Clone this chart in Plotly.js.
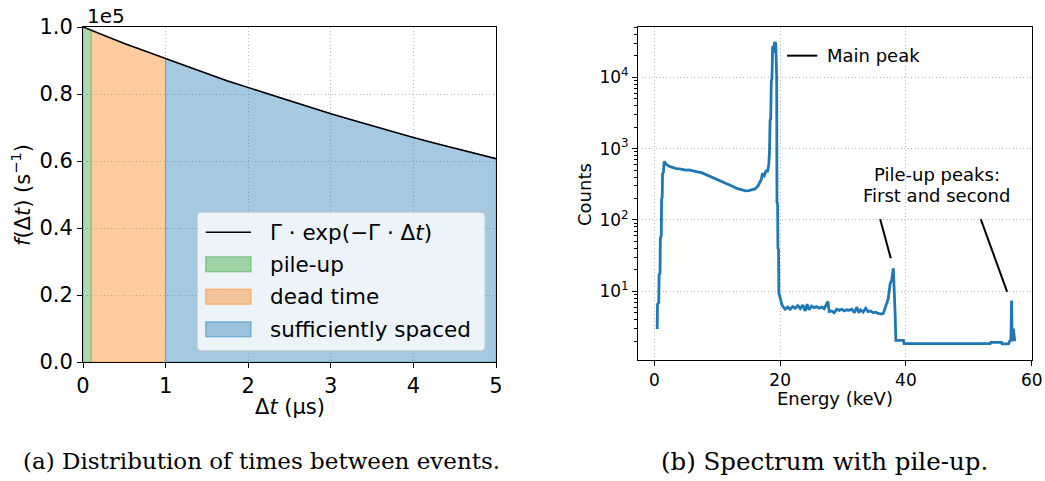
<!DOCTYPE html>
<html><head><meta charset="utf-8">
<script src="https://cdn.plot.ly/plotly-3.0.1.min.js"></script>
<style>html,body{margin:0;padding:0;background:#fff}#chart{width:1045px;height:481px}</style>
</head><body><div id="chart"></div>
<script>
// ---------- Data: (a) distribution of times between events ----------
const dtUs = [0, 0.1, 0.25, 0.5, 0.75, 1.0, 1.25, 1.5, 1.75, 2.0, 2.25, 2.5, 2.75, 3.0, 3.25, 3.5, 3.75, 4.0, 4.25, 4.5, 4.75, 5.0];
const rateE5 = [1.000, 0.990, 0.975, 0.951, 0.928, 0.905, 0.882, 0.861, 0.839, 0.819, 0.799, 0.779, 0.760, 0.741, 0.723, 0.705, 0.687, 0.670, 0.654, 0.638, 0.622, 0.607];
const curveName = 'Γ · exp(−Γ · Δ<i>t</i>)';
const regionNames = ['pile-up', 'dead time', 'sufficiently spaced'];
const regionEdgesUs = [0, 0.1, 1.0, 5.0];

// ---------- Data: (b) spectrum with pile-up ----------
const energyKeV = [0.25, 0.45, 0.5, 0.7, 0.75, 0.9, 0.95, 1.1, 1.15, 1.25, 1.3, 1.45, 1.55, 1.8, 2.0, 2.5, 3.0, 3.5, 4.0, 4.5, 5.0, 5.5, 6.0, 6.5, 7.0, 7.5, 8.0, 8.5, 9.0, 9.5, 10.0, 10.5, 11.0, 11.5, 12.0, 12.5, 13.0, 13.5, 14.0, 14.5, 15.0, 15.5, 16.0, 16.5, 17.0, 17.2, 17.5, 17.8, 18.0, 18.2, 18.3, 18.4, 18.5, 18.6, 18.7, 18.8, 18.9, 19.0, 19.1, 19.2, 19.3, 19.35, 19.45, 19.5, 19.6, 19.65, 19.75, 19.8, 20.0, 20.3, 20.8, 21.2, 21.6, 22.0, 22.4, 22.8, 23.2, 23.6, 24.0, 24.3, 24.6, 25.0, 25.4, 25.8, 26.2, 26.6, 27.0, 27.4, 27.6, 27.8, 28.2, 28.6, 29.0, 29.4, 29.8, 30.2, 30.6, 31.0, 31.4, 31.8, 32.2, 32.5, 32.8, 33.2, 33.6, 34.0, 34.4, 34.8, 35.2, 35.6, 36.0, 36.4, 36.8, 37.2, 37.5, 37.75, 38.0, 38.15, 38.3, 38.4, 39.6, 39.7, 42.0, 45.0, 48.0, 51.0, 53.4, 53.5, 55.2, 55.3, 56.3, 56.5, 56.7, 56.8, 56.9, 57.0, 57.1, 57.2, 57.3];
const counts = [3.1, 3.1, 6.6, 6.9, 17, 18, 55, 60, 195, 210, 440, 470, 660, 620, 590, 560, 540, 525, 520, 510, 500, 505, 490, 480, 470, 460, 440, 425, 410, 395, 375, 360, 340, 325, 310, 295, 280, 270, 262, 256, 258, 262, 272, 300, 370, 450, 420, 500, 470, 600, 860, 2500, 2600, 9000, 9500, 26000, 27500, 22000, 31000, 30500, 30000, 10500, 10000, 175, 170, 40, 38, 9.5, 8.0, 6.4, 5.6, 6.0, 5.6, 6.1, 5.8, 6.3, 5.7, 6.4, 5.3, 6.6, 5.5, 6.2, 5.9, 6.1, 5.8, 6.0, 5.7, 6.5, 7.2, 5.2, 5.3, 5.0, 5.6, 5.4, 5.6, 5.3, 5.5, 5.4, 5.6, 5.0, 6.0, 5.0, 5.5, 5.1, 5.8, 5.2, 5.3, 5.0, 5.1, 4.9, 4.8, 4.9, 6.1, 7.9, 12.9, 14.4, 21, 11.6, 4.4, 2.05, 2.05, 1.85, 1.85, 1.85, 1.85, 1.85, 1.85, 1.92, 1.92, 1.83, 1.83, 2.0, 2.1, 7.4, 2.0, 2.2, 3.0, 2.4, 2.0];
const yTickVals = [10, 100, 1000, 10000];
const yTickText = ['10<sup>1</sup>', '10<sup>2</sup>', '10<sup>3</sup>', '10<sup>4</sup>'];
const xTickVals2 = [0, 20, 40, 60];

// callout geometry (in data units of panel b)
const mainPeakCallout = {x: [21.1, 25.9], y: [20100, 20100]};
const pileCallout1 = {x: [35.9, 37.6], y: [103, 29]};
const pileCallout2 = {x: [51.9, 56.1], y: [103, 9.8]};

// ---------- Styles ----------
const W = 1045, H = 481;
const px = v => v / W, py = v => 1 - v / H;
const FONT = 'DejaVu Sans';
const regionRGB = ['44,160,44', '255,127,14', '31,119,180'];
const blue = '#1f77b4';

const traces = [];
regionNames.forEach((name, i) => {
  const a = regionEdgesUs[i], b = regionEdgesUs[i + 1];
  const xs = [], ys = [];
  dtUs.forEach((t, k) => { if (t >= a - 1e-9 && t <= b + 1e-9) { xs.push(t); ys.push(rateE5[k]); } });
  traces.push({
    x: [a, ...xs, b, a], y: [0, ...ys, 0, 0], xaxis: 'x', yaxis: 'y',
    mode: 'lines', fill: 'toself', name: name, showlegend: false, hoverinfo: 'skip',
    fillcolor: `rgba(${regionRGB[i]},0.4)`, line: {color: `rgba(${regionRGB[i]},0.4)`, width: 1}
  });
});
traces.push({x: dtUs, y: rateE5, xaxis: 'x', yaxis: 'y', mode: 'lines', name: curveName, showlegend: false,
  line: {color: '#000', width: 1.6}});
traces.push({x: energyKeV, y: counts, xaxis: 'x2', yaxis: 'y2', mode: 'lines', name: 'spectrum', showlegend: false,
  line: {color: blue, width: 2.8}});
[mainPeakCallout, pileCallout1, pileCallout2].forEach(c => traces.push({
  x: c.x, y: c.y, xaxis: 'x2', yaxis: 'y2', mode: 'lines', showlegend: false, hoverinfo: 'skip',
  line: {color: '#000', width: 2}
}));

const axBase = {
  ticks: 'outside', ticklen: 5, tickwidth: 1, tickcolor: '#000',
  showline: true, mirror: true, linecolor: '#000', linewidth: 1,
  showgrid: true, gridcolor: '#b0b0b0', griddash: '1px,2.5px', gridwidth: 0.9,
  zeroline: false, automargin: false, fixedrange: true
};

// manual legend (panel a)
const lg = {x0: 197.3, x1: 485, y0: 212.3, y1: 350.7, r: 4};
const rowsY = [232.3, 264.3, 296.7, 329.3];
const symX0 = 205.7, symX1 = 251, textX = 268.3;
function roundRectPath(b) {
  const X = v => px(v), Y = v => py(v), r = b.r;
  return `M${X(b.x0 + r)},${Y(b.y0)} L${X(b.x1 - r)},${Y(b.y0)} Q${X(b.x1)},${Y(b.y0)} ${X(b.x1)},${Y(b.y0 + r)} ` +
    `L${X(b.x1)},${Y(b.y1 - r)} Q${X(b.x1)},${Y(b.y1)} ${X(b.x1 - r)},${Y(b.y1)} L${X(b.x0 + r)},${Y(b.y1)} ` +
    `Q${X(b.x0)},${Y(b.y1)} ${X(b.x0)},${Y(b.y1 - r)} L${X(b.x0)},${Y(b.y0 + r)} Q${X(b.x0)},${Y(b.y0)} ${X(b.x0 + r)},${Y(b.y0)} Z`;
}
const shapes = [
  {type: 'path', xref: 'paper', yref: 'paper', path: roundRectPath(lg),
   fillcolor: 'rgba(255,255,255,0.8)', line: {color: '#cccccc', width: 1}},
  {type: 'line', xref: 'paper', yref: 'paper', x0: px(symX0), x1: px(symX1), y0: py(rowsY[0]), y1: py(rowsY[0]),
   line: {color: '#000', width: 1.6}}
];
regionNames.forEach((n, i) => shapes.push({
  type: 'rect', xref: 'paper', yref: 'paper', x0: px(symX0), x1: px(symX1),
  y0: py(rowsY[i + 1] - 7.5), y1: py(rowsY[i + 1] + 7.5),
  fillcolor: `rgba(${regionRGB[i]},0.4)`, line: {color: `rgba(${regionRGB[i]},0.4)`, width: 1.5}
}));

const txt = (text, x, y, size, extra) => Object.assign({
  text: text, x: x, y: y, xref: 'paper', yref: 'paper', showarrow: false,
  xanchor: 'center', yanchor: 'middle', font: {family: FONT, size: size, color: '#000'}
}, extra || {});

const annotations = [
  txt('1e5', px(85), py(16), 20, {xanchor: 'left'}),
  txt('Δ<i>t</i> (μs)', px(290), py(407), 21),
  txt('<i>f</i>(Δ<i>t</i>) (s<sup>−1</sup>)', px(21), py(195), 21, {textangle: -90}),
  txt('Energy (keV)', px(835), py(398), 18),
  txt('Counts', px(584), py(195), 18, {textangle: -90}),
  {text: 'Main peak', xref: 'x2', yref: 'y2', x: 27.1, y: Math.log10(mainPeakCallout.y[0]), xanchor: 'left', yanchor: 'middle',
   showarrow: false, font: {family: FONT, size: 18, color: '#000'}},
  {text: 'Pile-up peaks:', xref: 'x2', yref: 'y2', x: 44.9, y: 2.644, xanchor: 'center', yanchor: 'middle',
   showarrow: false, font: {family: FONT, size: 18, color: '#000'}},
  {text: 'First and second', xref: 'x2', yref: 'y2', x: 44.9, y: 2.349, xanchor: 'center', yanchor: 'middle',
   showarrow: false, font: {family: FONT, size: 18, color: '#000'}},
  txt(curveName, px(textX), py(rowsY[0]), 21.5, {xanchor: 'left'}),
  txt('(a) Distribution of times between events.', px(261), py(461), 23, {font: {family: 'DejaVu Serif', size: 23, color: '#000'}}),
  txt('(b) Spectrum with pile-up.', px(824), py(461), 24.5, {font: {family: 'DejaVu Serif', size: 24.5, color: '#000'}})
];
regionNames.forEach((n, i) => annotations.push(txt(n, px(textX), py(rowsY[i + 1]), 21.5, {xanchor: 'left'})));

const minorVals = [];
[1, 10, 100, 1000, 10000].forEach(d => { for (let m = 2; m <= 9; m++) minorVals.push(m * d); });

const layout = {
  width: W, height: H, margin: {l: 0, r: 0, t: 0, b: 0},
  paper_bgcolor: '#fff', plot_bgcolor: '#fff', showlegend: false,
  font: {family: FONT, color: '#000'},
  xaxis: Object.assign({}, axBase, {domain: [px(83), px(496)], range: [0, 5], anchor: 'y',
    tickvals: [0, 1, 2, 3, 4, 5], tickfont: {family: FONT, size: 21, color: '#000'}}),
  yaxis: Object.assign({}, axBase, {domain: [py(362), py(27)], range: [0, 1], anchor: 'x',
    tickvals: [0, 0.2, 0.4, 0.6, 0.8, 1.0], tickformat: '.1f', tickfont: {family: FONT, size: 21, color: '#000'}}),
  xaxis2: Object.assign({}, axBase, {domain: [px(638), px(1032)], range: [-2.6, 60.05], anchor: 'y2',
    tickvals: xTickVals2, tickfont: {family: FONT, size: 17, color: '#000'}}),
  yaxis2: Object.assign({}, axBase, {domain: [py(360), py(27)], type: 'log', range: [0.037, 4.705], anchor: 'x2',
    tickmode: 'array', tickvals: yTickVals, ticktext: yTickText, tickfont: {family: FONT, size: 17, color: '#000'},
    minor: {tickmode: 'array', tickvals: minorVals, ticks: 'outside', ticklen: 3, tickcolor: '#000', showgrid: false}}),
  shapes: shapes,
  annotations: annotations
};

Plotly.newPlot('chart', traces, layout, {staticPlot: true, displayModeBar: false});
</script>
</body></html>
